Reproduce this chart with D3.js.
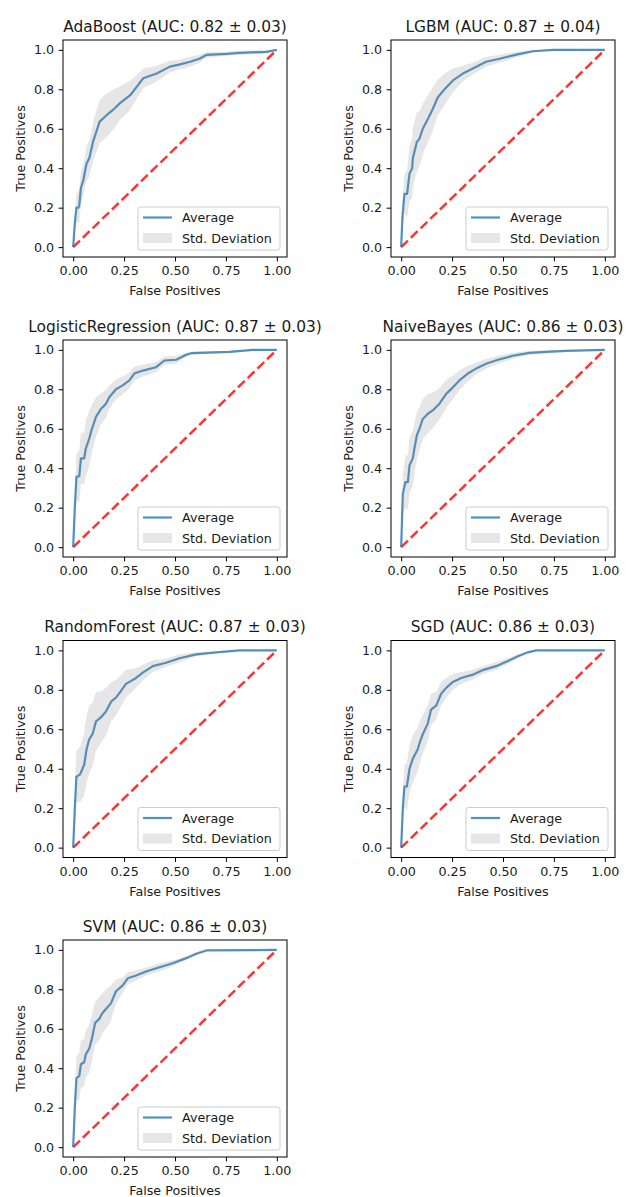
<!DOCTYPE html>
<html>
<head>
<meta charset="utf-8">
<script src="https://cdn.jsdelivr.net/npm/d3@7"></script>
<style>
  html, body { margin: 0; padding: 0; background: #fff; }
  svg { display: block; }
  text { font-family: "DejaVu Sans", sans-serif; fill: #1a1a1a; }
</style>
</head>
<body>
<svg id="chart" width="626" height="1197"></svg>
<script>
// ---------------- data ----------------
const modelNames = ["AdaBoost", "LGBM", "LogisticRegression", "NaiveBayes", "RandomForest", "SGD", "SVM"];
const aucMeans = [0.82, 0.87, 0.87, 0.86, 0.87, 0.86, 0.86];
const aucStds  = [0.03, 0.04, 0.03, 0.03, 0.03, 0.03, 0.03];

const xTicks = [0, 0.25, 0.5, 0.75, 1];
const yTicks = [0, 0.2, 0.4, 0.6, 0.8, 1];
const legendLabels = ["Average", "Std. Deviation"];

const adaFpr = [0, 0.008, 0.016, 0.025, 0.03, 0.038, 0.05, 0.059, 0.066, 0.079, 0.099, 0.13, 0.165, 0.2, 0.23, 0.28, 0.31, 0.344, 0.41, 0.475, 0.52, 0.574, 0.62, 0.656, 0.752, 0.818, 0.949, 1];
const adaTpr = [0, 0.12, 0.2, 0.2, 0.21, 0.30, 0.34, 0.39, 0.425, 0.45, 0.54, 0.636, 0.67, 0.70, 0.73, 0.77, 0.81, 0.856, 0.88, 0.915, 0.925, 0.94, 0.955, 0.975, 0.98, 0.985, 0.99, 1];
const adaStd = [0, 0.05, 0.07, 0.08, 0.08, 0.08, 0.08, 0.08, 0.09, 0.09, 0.1, 0.11, 0.11, 0.1, 0.085, 0.075, 0.06, 0.05, 0.04, 0.03, 0.025, 0.025, 0.02, 0.015, 0.01, 0.01, 0.008, 0];

const lgbmFpr = [0, 0.006, 0.016, 0.029, 0.041, 0.054, 0.057, 0.077, 0.09, 0.106, 0.131, 0.155, 0.18, 0.213, 0.254, 0.303, 0.352, 0.417, 0.483, 0.565, 0.646, 0.745, 1];
const lgbmTpr = [0, 0.15, 0.27, 0.27, 0.373, 0.40, 0.45, 0.533, 0.55, 0.60, 0.65, 0.70, 0.76, 0.80, 0.845, 0.88, 0.905, 0.94, 0.955, 0.976, 0.993, 1, 1];
const lgbmStd = [0, 0.06, 0.1, 0.12, 0.14, 0.15, 0.15, 0.15, 0.14, 0.13, 0.12, 0.11, 0.09, 0.08, 0.06, 0.04, 0.03, 0.025, 0.02, 0.015, 0.007, 0.003, 0];

const lrFpr = [0, 0.008, 0.016, 0.03, 0.038, 0.054, 0.062, 0.079, 0.092, 0.112, 0.136, 0.161, 0.177, 0.21, 0.243, 0.276, 0.30, 0.342, 0.407, 0.448, 0.506, 0.555, 0.58, 0.768, 0.883, 1];
const lrTpr = [0, 0.2, 0.356, 0.36, 0.45, 0.45, 0.5, 0.55, 0.6, 0.66, 0.70, 0.727, 0.76, 0.80, 0.82, 0.845, 0.88, 0.895, 0.912, 0.946, 0.95, 0.975, 0.983, 0.99, 1, 1];
const lrStd = [0, 0.08, 0.12, 0.13, 0.13, 0.13, 0.14, 0.14, 0.12, 0.1, 0.08, 0.07, 0.06, 0.05, 0.045, 0.04, 0.035, 0.03, 0.025, 0.02, 0.02, 0.01, 0.008, 0.005, 0.002, 0];

const nbFpr = [0, 0.008, 0.021, 0.033, 0.041, 0.057, 0.065, 0.077, 0.09, 0.106, 0.131, 0.155, 0.188, 0.221, 0.254, 0.286, 0.327, 0.368, 0.417, 0.475, 0.548, 0.63, 0.712, 0.81, 1];
const nbTpr = [0, 0.27, 0.33, 0.33, 0.415, 0.45, 0.5, 0.567, 0.6, 0.65, 0.676, 0.693, 0.727, 0.777, 0.81, 0.845, 0.88, 0.905, 0.93, 0.95, 0.97, 0.985, 0.99, 0.995, 1];
const nbStd = [0, 0.1, 0.13, 0.14, 0.14, 0.14, 0.13, 0.12, 0.11, 0.1, 0.1, 0.09, 0.08, 0.07, 0.06, 0.05, 0.04, 0.03, 0.025, 0.02, 0.015, 0.01, 0.008, 0.005, 0];

const rfFpr = [0, 0.008, 0.016, 0.033, 0.046, 0.054, 0.066, 0.079, 0.095, 0.112, 0.136, 0.161, 0.186, 0.21, 0.235, 0.259, 0.309, 0.342, 0.391, 0.456, 0.522, 0.604, 0.703, 0.818, 1];
const rfTpr = [0, 0.2, 0.36, 0.37, 0.40, 0.42, 0.50, 0.55, 0.575, 0.64, 0.66, 0.69, 0.74, 0.76, 0.795, 0.83, 0.86, 0.887, 0.92, 0.937, 0.96, 0.98, 0.99, 1, 1];
const rfStd = [0, 0.1, 0.13, 0.14, 0.15, 0.16, 0.17, 0.17, 0.16, 0.15, 0.13, 0.12, 0.1, 0.09, 0.08, 0.07, 0.05, 0.04, 0.03, 0.02, 0.02, 0.01, 0.005, 0.002, 0];

const sgdFpr = [0, 0.008, 0.016, 0.028, 0.041, 0.057, 0.082, 0.09, 0.106, 0.131, 0.147, 0.172, 0.196, 0.221, 0.254, 0.295, 0.352, 0.401, 0.466, 0.524, 0.573, 0.622, 0.663, 1];
const sgdTpr = [0, 0.2, 0.31, 0.31, 0.40, 0.45, 0.5, 0.53, 0.575, 0.63, 0.70, 0.72, 0.78, 0.81, 0.84, 0.86, 0.877, 0.90, 0.92, 0.946, 0.97, 0.99, 1, 1];
const sgdStd = [0, 0.08, 0.11, 0.12, 0.12, 0.12, 0.11, 0.11, 0.1, 0.09, 0.08, 0.07, 0.06, 0.05, 0.04, 0.03, 0.025, 0.02, 0.02, 0.015, 0.01, 0.005, 0.002, 0];

const svmFpr = [0, 0.008, 0.016, 0.03, 0.038, 0.054, 0.062, 0.079, 0.092, 0.108, 0.128, 0.144, 0.161, 0.186, 0.21, 0.243, 0.268, 0.309, 0.358, 0.424, 0.489, 0.555, 0.604, 0.654, 1];
const svmTpr = [0, 0.2, 0.35, 0.36, 0.42, 0.43, 0.47, 0.5, 0.55, 0.63, 0.65, 0.68, 0.70, 0.73, 0.79, 0.82, 0.856, 0.87, 0.89, 0.912, 0.932, 0.958, 0.98, 0.997, 1];
const svmStd = [0, 0.08, 0.11, 0.12, 0.12, 0.12, 0.12, 0.12, 0.12, 0.11, 0.11, 0.1, 0.1, 0.09, 0.06, 0.04, 0.03, 0.025, 0.02, 0.02, 0.015, 0.01, 0.008, 0.003, 0];

const allFpr = [adaFpr, lgbmFpr, lrFpr, nbFpr, rfFpr, sgdFpr, svmFpr];
const allTpr = [adaTpr, lgbmTpr, lrTpr, nbTpr, rfTpr, sgdTpr, svmTpr];
const allStd = [adaStd, lgbmStd, lrStd, nbStd, rfStd, sgdStd, svmStd];

// ---------------- layout ----------------
const colLeft = [63, 391];
const axW = 224;
const rowTop = [40, 340, 640.5, 940];
const axH = 217;
const blue = "#1f77b4";

const svg = d3.select("#chart");

modelNames.forEach((name, i) => {
  const col = i % 2, row = Math.floor(i / 2);
  const L = colLeft[col], T = rowTop[row];
  const x = d3.scaleLinear().domain([-0.05, 1.05]).range([L, L + axW]);
  const y = d3.scaleLinear().domain([-0.05, 1.05]).range([T + axH, T]);
  const g = svg.append("g");

  const pts = allFpr[i].map((f, k) => ({
    f, t: allTpr[i][k],
    up: Math.min(allTpr[i][k] + allStd[i][k], 1),
    lo: Math.max(allTpr[i][k] - allStd[i][k], 0)
  }));

  // chance line
  g.append("path")
    .datum([[0, 0], [1, 1]])
    .attr("d", d3.line().x(d => x(d[0])).y(d => y(d[1])))
    .attr("stroke", "#ff0000").attr("stroke-opacity", 0.8)
    .attr("stroke-width", 2.5).attr("stroke-dasharray", "9.4,4.1")
    .attr("fill", "none");

  // mean curve
  g.append("path")
    .datum(pts)
    .attr("d", d3.line().x(d => x(d.f)).y(d => y(d.t)))
    .attr("stroke", blue).attr("stroke-opacity", 0.8)
    .attr("stroke-width", 2.2).attr("fill", "none")
    .attr("stroke-linejoin", "round");

  // std band
  g.append("path")
    .datum(pts)
    .attr("d", d3.area().x(d => x(d.f)).y0(d => y(d.lo)).y1(d => y(d.up)))
    .attr("fill", "grey").attr("fill-opacity", 0.2);

  // axes
  const xAxis = d3.axisBottom(x).tickValues(xTicks).tickFormat(d3.format(".2f")).tickSize(4.4).tickPadding(4.4);
  const yAxis = d3.axisLeft(y).tickValues(yTicks).tickFormat(d3.format(".1f")).tickSize(4.4).tickPadding(4.4);
  const gx = g.append("g").attr("transform", `translate(0,${T + axH})`).call(xAxis);
  const gy = g.append("g").attr("transform", `translate(${L},0)`).call(yAxis);
  [gx, gy].forEach(a => {
    a.select(".domain").remove();
    a.selectAll("line").attr("stroke", "#000").attr("stroke-width", 1);
    a.selectAll("text").style("font-size", "12.7px").attr("fill", "#1a1a1a")
      .style("font-family", "'DejaVu Sans', sans-serif");
  });
  gx.selectAll("text").attr("dy", "0.76em");

  // frame
  g.append("rect").attr("x", L).attr("y", T).attr("width", axW).attr("height", axH)
    .attr("fill", "none").attr("stroke", "#000").attr("stroke-width", 1);

  // title
  g.append("text").attr("x", L + axW / 2).attr("y", T - 8.5).attr("text-anchor", "middle")
    .style("font-size", "15.4px")
    .text(`${name} (AUC: ${aucMeans[i].toFixed(2)} \u00B1 ${aucStds[i].toFixed(2)})`);

  // axis labels
  g.append("text").attr("x", L + axW / 2).attr("y", T + axH + 38).attr("text-anchor", "middle")
    .style("font-size", "12.7px").text("False Positives");
  g.append("text")
    .attr("transform", `translate(${L - 38},${T + axH / 2}) rotate(-90)`)
    .attr("text-anchor", "middle").style("font-size", "12.7px").text("True Positives");

  // legend
  const lw = 142, lh = 43;
  const lx = L + axW - 7 - lw, ly = T + axH - 7 - lh;
  const lg = g.append("g");
  lg.append("rect").attr("x", lx).attr("y", ly).attr("width", lw).attr("height", lh)
    .attr("rx", 2.5).attr("fill", "#fff").attr("fill-opacity", 0.8)
    .attr("stroke", "#cccccc").attr("stroke-width", 1);
  lg.append("line").attr("x1", lx + 5).attr("x2", lx + 34).attr("y1", ly + 10.5).attr("y2", ly + 10.5)
    .attr("stroke", blue).attr("stroke-opacity", 0.8).attr("stroke-width", 2.2);
  lg.append("rect").attr("x", lx + 5).attr("y", ly + 26).attr("width", 29).attr("height", 10)
    .attr("fill", "grey").attr("fill-opacity", 0.2);
  lg.append("text").attr("x", lx + 44).attr("y", ly + 15).style("font-size", "12.7px").text(legendLabels[0]);
  lg.append("text").attr("x", lx + 44).attr("y", ly + 35.5).style("font-size", "12.7px").text(legendLabels[1]);
});
</script>
</body>
</html>
